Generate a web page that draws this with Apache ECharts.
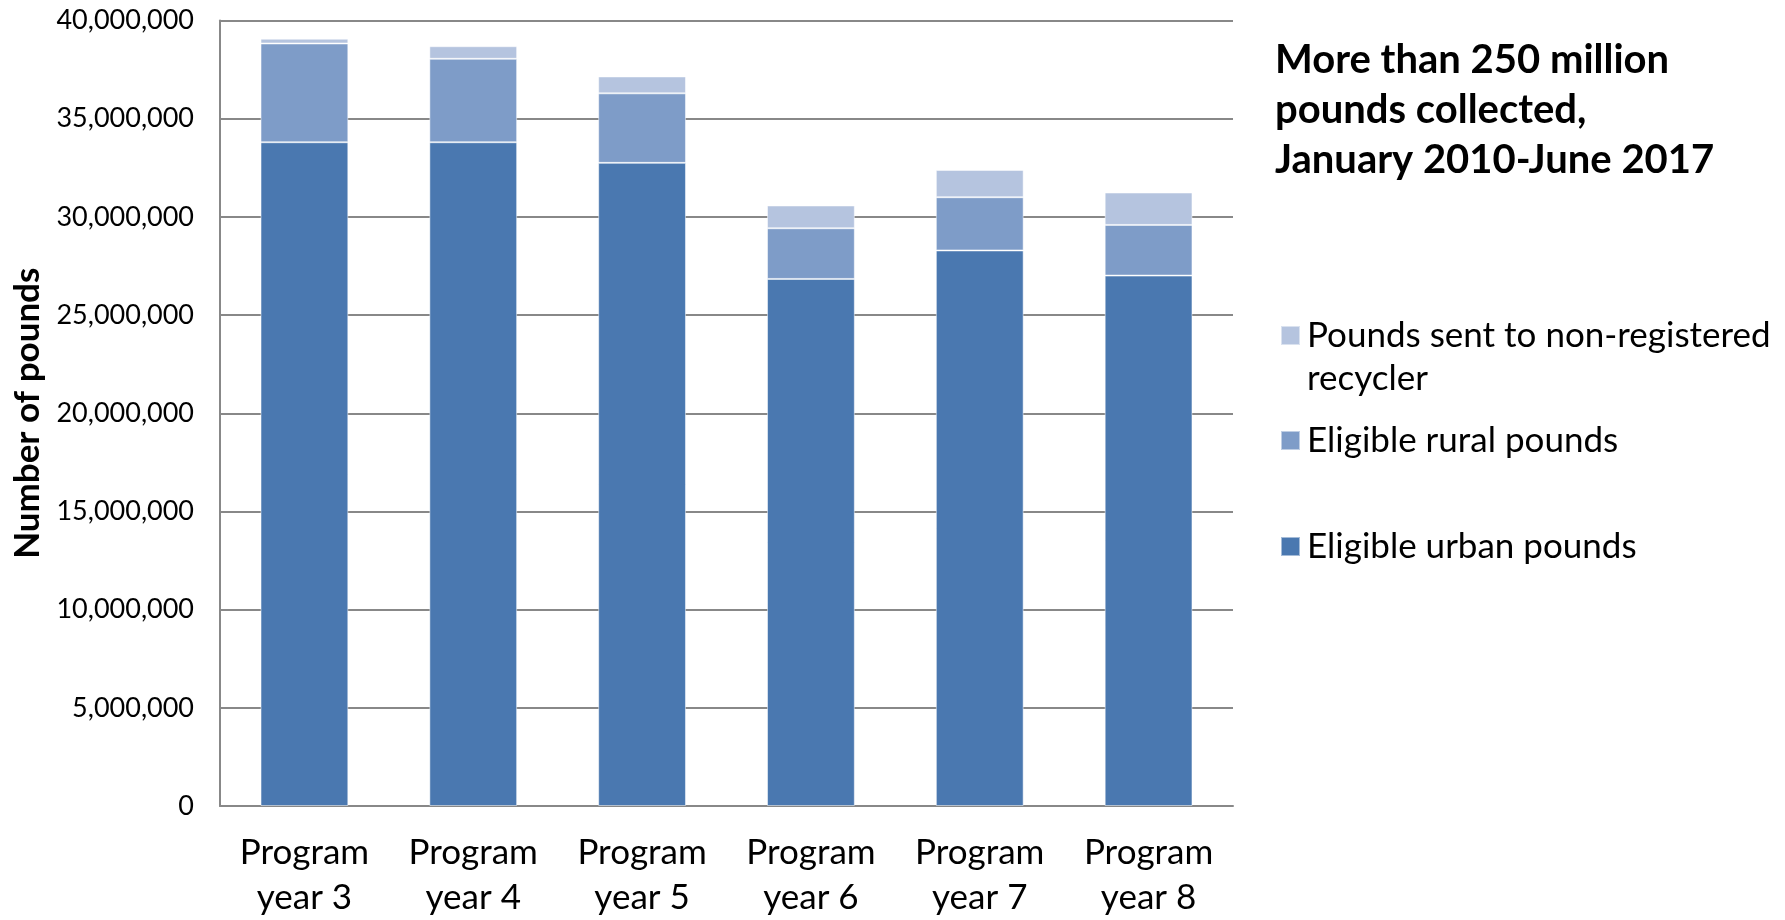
<!DOCTYPE html>
<html>
<head>
<meta charset="utf-8">
<script src="https://cdn.jsdelivr.net/npm/echarts@6/dist/echarts.min.js"></script>
<style>
html,body{margin:0;padding:0;background:#fff;}
#chart{width:1785px;height:920px;}
</style>
</head>
<body>
<div id="chart"></div>
<script>
const categories = ['Program\nyear 3','Program\nyear 4','Program\nyear 5','Program\nyear 6','Program\nyear 7','Program\nyear 8'];
const urbanPounds = [33800000, 33800000, 32750000, 26840000, 28290000, 27010000];
const ruralPounds = [5030000, 4250000, 3540000, 2580000, 2710000, 2580000];
const nonRegisteredPounds = [240000, 640000, 860000, 1160000, 1390000, 1650000];
const seriesNames = ['Eligible urban pounds', 'Eligible rural pounds', 'Pounds sent to non-registered recycler'];
const titleLines = ['More than 250 million', 'pounds collected,', 'January 2010-June 2017'];
const yAxisTitle = 'Number of pounds';

const FONT = 'Lato, "Open Sans", sans-serif';
const colors = ['#4A78B0', '#7E9CC8', '#B5C4DF'];
const chart = echarts.init(document.getElementById('chart'), null, {renderer: 'canvas'});

function legendFor(name, top, formatter) {
  const l = {
    orient: 'vertical', left: 1280, top: top, padding: 0,
    itemWidth: 19, itemHeight: 19, icon: 'rect',
    data: [name],
    selectedMode: false,
    textStyle: {fontFamily: FONT, fontSize: 35, color: '#000', lineHeight: 43, padding: [0,0,0,2]},
    itemGap: 0
  };
  if (formatter) l.formatter = formatter;
  return l;
}

chart.setOption({
  animation: false,
  color: colors,
  title: {
    text: titleLines.join('\n'),
    left: 1270, top: 30,
    textStyle: {fontFamily: FONT, fontWeight: 'bold', fontSize: 40, lineHeight: 50, color: '#000'}
  },
  legend: [
    // leading empty line keeps the first text line level with the swatch
    legendFor(seriesNames[2], 271, function(n){ return '\nPounds sent to non-registered\nrecycler'; }),
    legendFor(seriesNames[1], 419),
    legendFor(seriesNames[0], 525)
  ],
  grid: {left: 220, right: 1785 - 1233, top: 20.5, bottom: 920 - 806, containLabel: false},
  xAxis: {
    type: 'category',
    data: categories,
    axisLine: {lineStyle: {color: '#888', width: 2}},
    axisTick: {show: false},
    axisLabel: {fontFamily: FONT, fontSize: 35, color: '#000', lineHeight: 45, margin: 24, interval: 0}
  },
  yAxis: {
    type: 'value', min: 0, max: 40000000, interval: 5000000,
    name: yAxisTitle, nameLocation: 'middle', nameGap: 173, nameRotate: 90,
    nameTextStyle: {fontFamily: FONT, fontWeight: 'bold', fontSize: 35, color: '#000'},
    axisLine: {show: true, lineStyle: {color: '#888', width: 2}},
    axisTick: {show: false},
    splitLine: {lineStyle: {color: '#888', width: 2}},
    axisLabel: {
      fontFamily: FONT, fontSize: 27, color: '#000', margin: 26,
      formatter: function(v){ return v.toLocaleString('en-US'); }
    }
  },
  series: [
    {name: seriesNames[0], type: 'bar', stack: 'total', data: urbanPounds, barWidth: '52%',
     itemStyle: {color: colors[0], borderColor: 'rgba(255,255,255,0.5)', borderWidth: 1}},
    {name: seriesNames[1], type: 'bar', stack: 'total', data: ruralPounds, barWidth: '52%',
     itemStyle: {color: colors[1], borderColor: 'rgba(255,255,255,0.5)', borderWidth: 1}},
    {name: seriesNames[2], type: 'bar', stack: 'total', data: nonRegisteredPounds, barWidth: '52%',
     itemStyle: {color: colors[2], borderColor: 'rgba(255,255,255,0.5)', borderWidth: 1}}
  ]
});
</script>
</body>
</html>
